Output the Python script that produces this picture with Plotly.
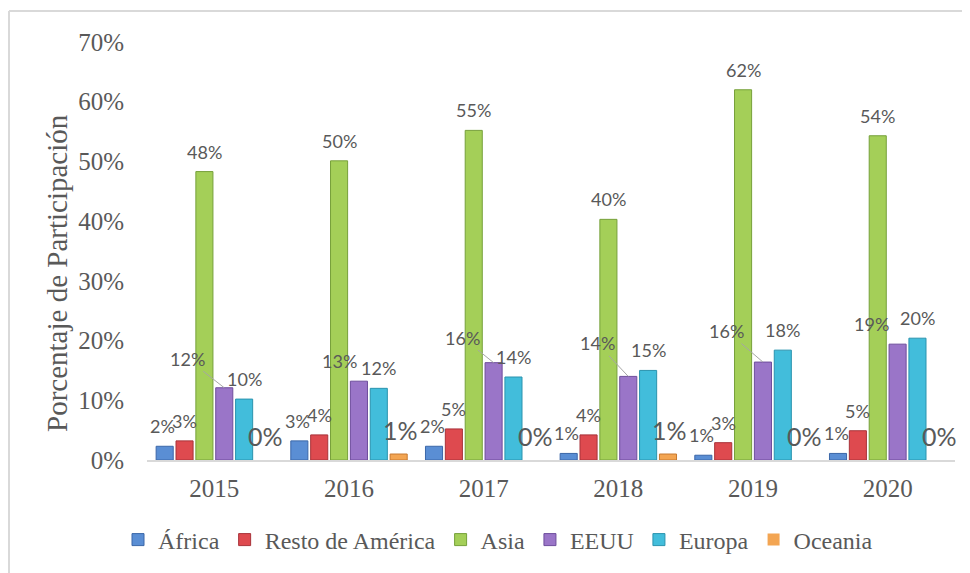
import plotly.graph_objects as go

# ---------------- data ----------------
years = ["2015", "2016", "2017", "2018", "2019", "2020"]
series_names = ["África", "Resto de América", "Asia", "EEUU", "Europa", "Oceania"]
africa = [0.023, 0.032, 0.023, 0.011, 0.008, 0.011]
resto_america = [0.032, 0.042, 0.052, 0.042, 0.029, 0.049]
asia = [0.483, 0.501, 0.552, 0.403, 0.620, 0.543]
eeuu = [0.121, 0.132, 0.163, 0.140, 0.164, 0.194]
europa = [0.102, 0.120, 0.139, 0.150, 0.184, 0.204]
oceania = [0.0, 0.010, 0.0, 0.010, 0.0, 0.0]
y_tick_vals = [0.0, 0.1, 0.2, 0.3, 0.4, 0.5, 0.6, 0.7]
y_tick_text = ["0%", "10%", "20%", "30%", "40%", "50%", "60%", "70%"]
y_title = "Porcentaje de Participación"

series_values = [africa, resto_america, asia, eeuu, europa, oceania]

# ---------------- style ----------------
colors = ["#5A8ED4", "#DE4A4F", "#A4CF58", "#9A75C8", "#42BDDB", "#F3A552"]
edge_colors = ["#3B67A8", "#A8333A", "#76A03A", "#6E4D9C", "#2A93AE", "#C8782E"]
W, H = 970, 573
BODY = 8  # default page body margin offsets the figure on screen
# target screen positions of the plot area
PL, PR, PT, PB = 147, 955, 42, 460
ML, MT = PL - BODY, PT - BODY
MR, MB = W - (PR - BODY), H - (PB - BODY)
PLOT_W = W - ML - MR
PLOT_H = H - MT - MB
BARGAP = 0.115
BARGROUPGAP = 0.14
GRAY = "#595959"
SERIF = "Liberation Serif, Times New Roman, serif"
SANS = "Lato, Liberation Sans, Arial, sans-serif"


def px_x(sx):
    """screen x -> paper fraction"""
    return (sx - PL) / PLOT_W


def px_y(sy):
    """screen y -> paper fraction"""
    return (PB - sy) / PLOT_H


n_series = len(series_names)
cat_px = PLOT_W / len(years)
slot_px = cat_px * (1 - BARGAP) / n_series

fig = go.Figure()
for i, (name, vals) in enumerate(zip(series_names, series_values)):
    fig.add_trace(go.Bar(
        x=years, y=vals, name=name,
        marker=dict(color=colors[i],
                    line=dict(color=edge_colors[i],
                              width=[1 if v > 0 else 0 for v in vals])),
    ))

# ---------------- data labels ----------------
# EEUU labels are displaced (Excel style) with leader lines for some years
eeuu_label_offsets = [(-37, -29), (-19, -20), (-31, -25), (-31, -33), (-36, -31), (-26, -20)]
eeuu_leader = [True, False, True, True, True, False]

annotations = []
for i, (name, vals) in enumerate(zip(series_names, series_values)):
    xoff = (i - (n_series - 1) / 2) * slot_px
    big = (name == "Oceania")
    for j, v in enumerate(vals):
        txt = f"{v:.0%}"
        # x given as category index j (position of years[j] on the category axis)
        if name == "EEUU":
            dx, dy = eeuu_label_offsets[j]
            if eeuu_leader[j]:
                annotations.append(dict(
                    x=j, y=v, xref="x", yref="y", text=txt, xshift=xoff,
                    showarrow=True, ax=dx, ay=dy, arrowhead=0, arrowwidth=1,
                    arrowcolor="#A6A6A6", standoff=0,
                    font=dict(family=SANS, size=18, color=GRAY)))
            else:
                annotations.append(dict(
                    x=j, y=v, xref="x", yref="y", text=txt,
                    xshift=xoff + dx, yshift=-dy, showarrow=False,
                    yanchor="middle",
                    font=dict(family=SANS, size=18, color=GRAY)))
        else:
            nudge = -2 if name == "África" else 0
            annotations.append(dict(
                x=j, y=v, xref="x", yref="y", text=txt,
                xshift=xoff + (2 if big else nudge), yshift=24 if big else 20,
                showarrow=False, yanchor="middle",
                font=dict(family=SANS, size=25 if big else 18, color=GRAY)))

# y-axis title
annotations.append(dict(
    x=px_x(57), y=px_y(273), xref="paper", yref="paper",
    text=y_title, textangle=-90, showarrow=False,
    xanchor="center", yanchor="middle",
    font=dict(family=SERIF, size=29, color=GRAY)))

# chart frame (left and top edges visible)
frame_x0 = px_x(9)
frame_y1 = px_y(11)
shapes = [
    dict(type="line", xref="paper", yref="paper", x0=frame_x0, x1=frame_x0,
         y0=-0.5, y1=frame_y1, line=dict(color="#D9D9D9", width=2)),
    dict(type="line", xref="paper", yref="paper", x0=frame_x0, x1=1.2,
         y0=frame_y1, y1=frame_y1, line=dict(color="#D9D9D9", width=2)),
]

fig.update_layout(
    width=W, height=H,
    margin=dict(l=ML, r=MR, t=MT, b=MB, autoexpand=False),
    paper_bgcolor="white", plot_bgcolor="white",
    barmode="group", bargap=BARGAP, bargroupgap=BARGROUPGAP,
    showlegend=True,
    legend=dict(orientation="h", x=px_x(118), xanchor="left",
                y=px_y(540), yanchor="middle",
                font=dict(family=SERIF, size=24, color=GRAY),
                itemclick=False, itemdoubleclick=False),
    annotations=annotations,
    shapes=shapes,
    font=dict(family=SERIF, color=GRAY),
)
fig.update_xaxes(
    type="category", range=[-0.5, len(years) - 0.5],
    showgrid=False, zeroline=False,
    showline=True, linecolor="#D9D9D9", linewidth=2,
    ticks="", ticklabelstandoff=5,
    tickfont=dict(family=SERIF, size=25, color=GRAY),
)
fig.update_yaxes(
    range=[0, 0.7], tickvals=y_tick_vals, ticktext=y_tick_text,
    showgrid=False, zeroline=False, showline=False, ticks="",
    ticklabelstandoff=22,
    tickfont=dict(family=SERIF, size=25, color=GRAY),
)

fig.write_html("out.html")
